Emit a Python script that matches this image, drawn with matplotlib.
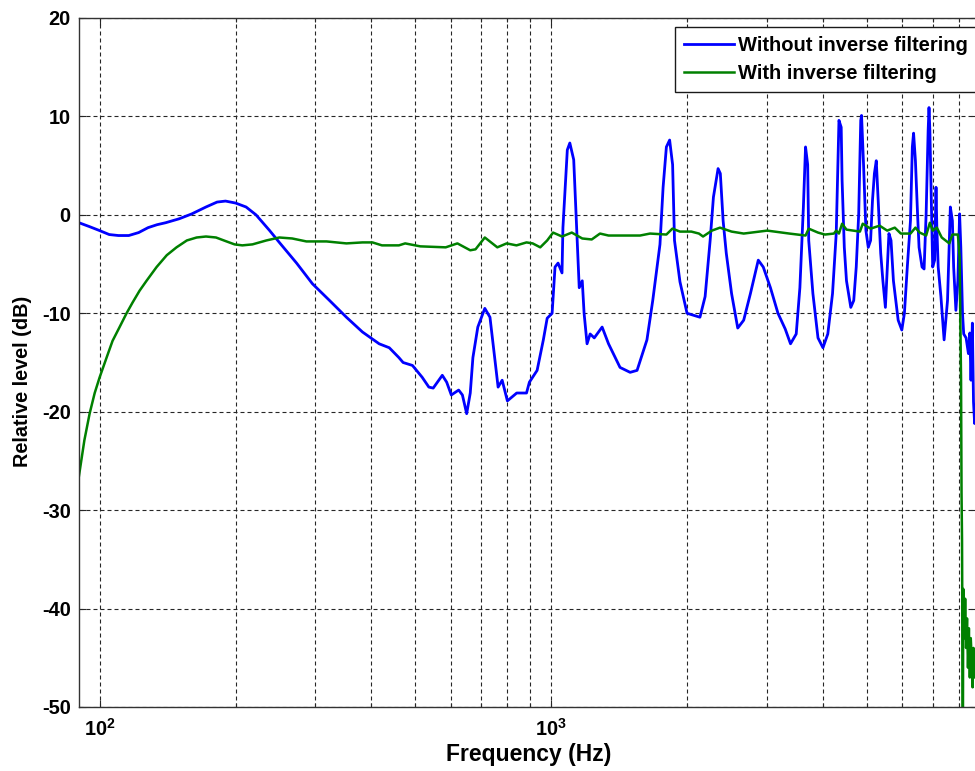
import matplotlib
matplotlib.use('Agg')
import matplotlib.pyplot as plt
from matplotlib.ticker import FixedLocator, FixedFormatter, NullFormatter

plt.rcParams['font.family'] = ['Liberation Sans', 'DejaVu Sans']
plt.rcParams['font.weight'] = 'bold'
plt.rcParams['axes.unicode_minus'] = False
plt.rcParams['mathtext.fontset'] = 'custom'
plt.rcParams['mathtext.bf'] = 'Liberation Sans:bold'
plt.rcParams['mathtext.rm'] = 'Liberation Sans:bold'

# Without inverse filtering (Hz, dB)
blue_f = [90, 95, 100, 105, 110, 116, 122, 128, 134, 140,
          150, 160, 172, 182, 190, 200, 211, 222, 238, 250,
          273, 296, 323, 352, 382, 416, 438, 460, 470, 493,
          518, 536, 548, 574, 587, 601, 624, 636, 650, 662,
          671, 688, 713, 732, 751, 763, 779, 800, 839, 882,
          895, 931, 961, 980, 1005, 1020, 1036, 1057, 1062, 1086,
          1100, 1122, 1142, 1154, 1172, 1183, 1201, 1220, 1246, 1297,
          1340, 1421, 1496, 1550, 1630, 1679, 1742, 1770, 1800, 1830,
          1858, 1876, 1929, 2000, 2066, 2136, 2193, 2250, 2288, 2343,
          2370, 2404, 2443, 2510, 2590, 2670, 2763, 2876, 2950, 3060,
          3180, 3300, 3390, 3490, 3556, 3620, 3660, 3700, 3720, 3800,
          3900, 4000, 4100, 4200, 4280, 4340, 4390, 4410, 4460, 4510,
          4610, 4680, 4740, 4800, 4850, 4870, 4920, 4980, 5040, 5100,
          5150, 5200, 5250, 5310, 5370, 5430, 5500, 5600, 5660, 5730,
          5870, 5980, 6060, 6150, 6250, 6310, 6350, 6410, 6480, 6530,
          6630, 6700, 6770, 6840, 6870, 6900, 6960, 7000, 7070, 7120,
          7150, 7200, 7300, 7420, 7550, 7660, 7740, 7790, 7880, 7960,
          8030, 8080, 8150, 8200, 8300, 8400, 8460, 8510, 8570, 8620,
          8670, 8750, 8820]
blue_db = [-0.8, -1.2, -1.6, -2.0, -2.1, -2.1, -1.8, -1.3, -1.0, -0.8,
           -0.4, 0.1, 0.8, 1.3, 1.4, 1.2, 0.8, 0.0, -1.6, -2.8,
           -4.9, -7.0, -8.7, -10.4, -11.9, -13.1, -13.5, -14.5, -15.0, -15.3,
           -16.5, -17.5, -17.6, -16.3, -17.0, -18.3, -17.8, -18.3, -20.2, -18.1,
           -14.5, -11.4, -9.5, -10.4, -14.8, -17.5, -16.8, -18.9, -18.1, -18.1,
           -17.0, -15.8, -12.7, -10.5, -10.0, -5.3, -4.9, -5.9, -1.3, 6.6,
           7.3, 5.6, -2.6, -7.4, -6.7, -10.0, -13.1, -12.1, -12.5, -11.4,
           -13.1, -15.5, -16.0, -15.8, -12.7, -8.7, -3.0, 2.8, 6.9, 7.6,
           5.1, -2.6, -6.8, -10.0, -10.2, -10.4, -8.3, -2.6, 1.8, 4.7,
           4.2, -0.6, -3.9, -8.0, -11.5, -10.7, -8.0, -4.6, -5.3, -7.4,
           -10.0, -11.6, -13.1, -12.1, -7.4, 0.8, 6.9, 5.1, -2.6, -8.0,
           -12.5, -13.5, -12.1, -8.0, -1.9, 9.6, 8.9, 3.5, -3.3, -6.7,
           -9.4, -8.7, -5.3, 0.1, 9.6, 10.1, 5.1, -1.6, -3.3, -2.6,
           1.5, 4.2, 5.5, 0.8, -3.9, -6.7, -9.4, -1.9, -2.6, -6.7,
           -10.7, -11.7, -10.0, -5.3, -0.6, 6.9, 8.3, 5.5, 0.1, -3.3,
           -5.3, -5.5, 0.1, 8.6, 10.9, 8.6, 0.1, -5.3, -4.6, 2.8,
           -1.3, -5.3, -8.3, -12.7, -8.7, 0.8, -0.6, -5.3, -9.7, -6.7,
           0.1, -3.3, -10.0, -12.1, -12.5, -14.1, -12.0, -16.8, -11.0, -19.0,
           -21.2, -20.0, -22.0]

# With inverse filtering (Hz, dB)
green_f = [90, 92.5, 95, 97.5, 100, 103.6, 106.8, 110.7, 114.7, 118.3,
           122.6, 127, 133.7, 140.8, 148, 156, 164, 172, 181, 191,
           199, 207, 218, 234, 250, 267, 287, 318, 352, 382,
           402, 422, 460, 475, 513, 584, 620, 662, 680, 713,
           760, 797, 838, 882, 910, 946, 980, 1010, 1057, 1111,
           1172, 1230, 1283, 1340, 1574, 1656, 1800, 1856, 1929, 2044,
           2125, 2170, 2270, 2366, 2510, 2670, 3010, 3370, 3660, 3720,
           3900, 4040, 4230, 4280, 4340, 4410, 4510, 4830, 4900, 5100,
           5340, 5550, 5770, 5950, 6250, 6410, 6550, 6770, 6900, 7000,
           7150, 7330, 7620, 7740, 7960, 8030, 8090, 8110, 8130, 8150,
           8165, 8180, 8200, 8230, 8260, 8300, 8340, 8380, 8420, 8460,
           8500, 8540, 8580, 8620, 8670, 8720, 8820]
green_db = [-26.5, -22.9, -20.2, -18.1, -16.5, -14.5, -12.8, -11.4, -10.0, -8.9,
            -7.7, -6.7, -5.3, -4.1, -3.3, -2.6, -2.3, -2.2, -2.3, -2.7,
            -3.0, -3.1, -3.0, -2.6, -2.3, -2.4, -2.7, -2.7, -2.9, -2.8,
            -2.8, -3.1, -3.1, -2.9, -3.2, -3.3, -2.9, -3.6, -3.5, -2.3,
            -3.3, -2.9, -3.1, -2.8, -2.9, -3.3, -2.6, -1.8, -2.2, -1.8,
            -2.4, -2.5, -1.9, -2.1, -2.1, -1.9, -2.0, -1.4, -1.7, -1.7,
            -1.9, -2.2, -1.6, -1.3, -1.7, -1.9, -1.6, -1.9, -2.1, -1.4,
            -1.8, -2.0, -1.9, -1.6, -1.9, -0.9, -1.5, -1.7, -0.9, -1.4,
            -1.1, -1.6, -1.3, -1.9, -1.9, -1.3, -1.8, -2.1, -0.8, -1.6,
            -1.3, -2.3, -2.9, -2.0, -2.0, -4.3, -16.8, -28.3, -33.0, -45.0,
            -55.0, -38.0, -40.0, -43.0, -39.0, -44.0, -41.0, -46.0, -42.0, -47.0,
            -43.0, -45.0, -48.0, -44.0, -47.0, -46.0, -47.0]

major_x = [100, 1000]
major_x_labels = [r'$\mathbf{10^{2}}$', r'$\mathbf{10^{3}}$']
minor_x = [200, 300, 400, 500, 600, 700, 800, 900,
           2000, 3000, 4000, 5000, 6000, 7000, 8000]
y_ticks = [-50, -40, -30, -20, -10, 0, 10, 20]

fig = plt.figure(figsize=(9.75, 7.71), dpi=100)
# axes runs just past the right edge of the picture (cropped like the reference)
ax = fig.add_axes([79 / 975, 1 - 707 / 771, (978 - 79) / 975, (707 - 18) / 771])

ax.plot(blue_f, blue_db, color='#0000ff', lw=2.0, label='Without inverse filtering')
ax.plot(green_f, green_db, color='#008000', lw=1.8, label='With inverse filtering')

ax.set_xscale('log')
ax.set_xlim(90, 8820)
ax.set_ylim(-50, 20)

ax.xaxis.set_major_locator(FixedLocator(major_x))
ax.xaxis.set_major_formatter(FixedFormatter(major_x_labels))
ax.xaxis.set_minor_locator(FixedLocator(minor_x))
ax.xaxis.set_minor_formatter(NullFormatter())
ax.set_yticks(y_ticks)

grid_kw = dict(color='0.15', lw=0.8, linestyle=(0, (3.6, 2.7)))
ax.grid(True, which='major', **grid_kw)
ax.grid(True, which='minor', axis='x', **grid_kw)

ax.tick_params(which='both', direction='in', top=True, right=True,
               labelsize=14.4, width=0.8, color='0.15')
ax.tick_params(which='major', length=5)
ax.tick_params(which='minor', length=3)
ax.tick_params(axis='y', pad=6)
ax.tick_params(axis='x', pad=8)
for s in ax.spines.values():
    s.set_linewidth(1.0)
    s.set_color('0.2')

ax.set_xlabel('Frequency (Hz)', fontsize=16.5, fontweight='bold', labelpad=2)
ax.set_ylabel('Relative level (dB)', fontsize=14.3, fontweight='bold')
ax.yaxis.set_label_coords(-0.0525, 0.472)

leg = ax.legend(loc='upper left', bbox_to_anchor=(675 / 975, 1 - 26.5 / 771),
                bbox_transform=fig.transFigure, fontsize=14.5, fancybox=False,
                framealpha=1, edgecolor='0.1', handlelength=2.5,
                handletextpad=0.2, labelspacing=0.45, borderpad=0.45,
                borderaxespad=0)
leg.get_frame().set_linewidth(1.0)

fig.savefig('out.png', dpi=100)
